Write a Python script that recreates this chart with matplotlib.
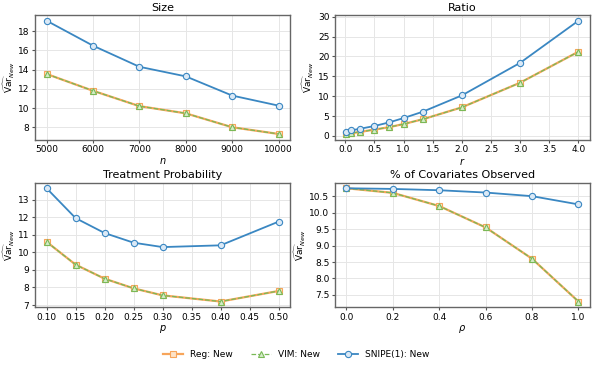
import matplotlib
matplotlib.use('Agg')

import numpy as np
import matplotlib.pyplot as plt

# data
n_vals = [5000, 6000, 7000, 8000, 9000, 10000]
size_snipe = [19.1, 16.5, 14.3, 13.3, 11.3, 10.25]
size_reg = [13.55, 11.8, 10.2, 9.45, 8.0, 7.3]
size_vim = [13.55, 11.8, 10.2, 9.45, 8.0, 7.3]

r_vals = [0.02, 0.1, 0.25, 0.5, 0.75, 1.0, 1.33, 2.0, 3.0, 4.0]
ratio_snipe = [1.1, 1.4, 1.8, 2.5, 3.4, 4.5, 6.1, 10.2, 18.4, 29.0]
ratio_reg = [0.5, 0.7, 1.0, 1.6, 2.2, 3.0, 4.2, 7.2, 13.4, 21.2]
ratio_vim = [0.5, 0.7, 1.0, 1.6, 2.2, 3.0, 4.2, 7.2, 13.4, 21.2]

p_vals = [0.10, 0.15, 0.20, 0.25, 0.30, 0.40, 0.50]
prob_snipe = [13.65, 11.95, 11.1, 10.55, 10.3, 10.4, 11.75]
prob_reg = [10.6, 9.3, 8.5, 7.95, 7.55, 7.2, 7.8]
prob_vim = [10.6, 9.3, 8.5, 7.95, 7.55, 7.2, 7.8]

rho_vals = [0.0, 0.2, 0.4, 0.6, 0.8, 1.0]
cov_snipe = [10.74, 10.72, 10.68, 10.61, 10.5, 10.25]
cov_reg = [10.74, 10.6, 10.2, 9.55, 8.6, 7.3]
cov_vim = [10.74, 10.6, 10.2, 9.55, 8.6, 7.3]

panels = [
    ("Size", "$n$", n_vals, size_reg, size_vim, size_snipe),
    ("Ratio", "$r$", r_vals, ratio_reg, ratio_vim, ratio_snipe),
    ("Treatment Probability", "$p$", p_vals, prob_reg, prob_vim, prob_snipe),
    ("% of Covariates Observed", r"$\rho$", rho_vals, cov_reg, cov_vim, cov_snipe),
]

ORANGE = "#f7a55a"
GREEN = "#79b957"
BLUE = "#3a87c2"

fig, axes = plt.subplots(2, 2, figsize=(5.93, 3.67), dpi=100)

for ax, (title, xlab, x, reg, vim, snipe) in zip(axes.flat, panels):
    ax.plot(x, reg, color=ORANGE, marker="s", markersize=4.5, lw=1.6,
            markerfacecolor="#fde3c8", markeredgewidth=0.8, label="Reg: New")
    ax.plot(x, vim, color=GREEN, marker="^", markersize=4.5, lw=0.9, ls="--",
            markerfacecolor="#d4ecc8", markeredgewidth=0.8, label="VIM: New")
    ax.plot(x, snipe, color=BLUE, marker="o", markersize=4.5, lw=1.3,
            markerfacecolor="#dbe9f6", markeredgewidth=0.8, label="SNIPE(1): New")
    ax.set_title(title, fontsize=8, pad=3)
    ax.set_xlabel(xlab, fontsize=7, labelpad=1)
    ax.set_ylabel(r"$\widehat{\mathrm{Var}}_{New}$", fontsize=6.5, labelpad=1)
    ax.tick_params(labelsize=6.5, length=2.5, pad=1.5, color="#555555")
    ax.grid(True, color="#e6e6e6", lw=0.7)
    for s in ax.spines.values():
        s.set_color("#666666")
        s.set_linewidth(1.0)

axes[0, 0].set_yticks([8, 10, 12, 14, 16, 18])
axes[0, 1].set_yticks([0, 5, 10, 15, 20, 25, 30])
axes[0, 1].set_xticks(np.arange(0, 4.01, 0.5))
axes[1, 0].set_xticks([0.10, 0.15, 0.20, 0.25, 0.30, 0.35, 0.40, 0.45, 0.50])
axes[1, 0].set_yticks([7, 8, 9, 10, 11, 12, 13])
axes[1, 1].set_xticks([0.0, 0.2, 0.4, 0.6, 0.8, 1.0])
axes[1, 1].set_yticks([7.5, 8.0, 8.5, 9.0, 9.5, 10.0, 10.5])

handles, labels = axes[0, 0].get_legend_handles_labels()
fig.legend(handles, labels, loc="lower center", ncol=3, frameon=False,
           fontsize=6.5, bbox_to_anchor=(0.5, 0.0), handlelength=2.2,
           columnspacing=2.0)

plt.subplots_adjust(left=0.059, right=0.995, top=0.959, bottom=0.163,
                    wspace=0.175, hspace=0.345)

plt.savefig("out.png", dpi=100)
